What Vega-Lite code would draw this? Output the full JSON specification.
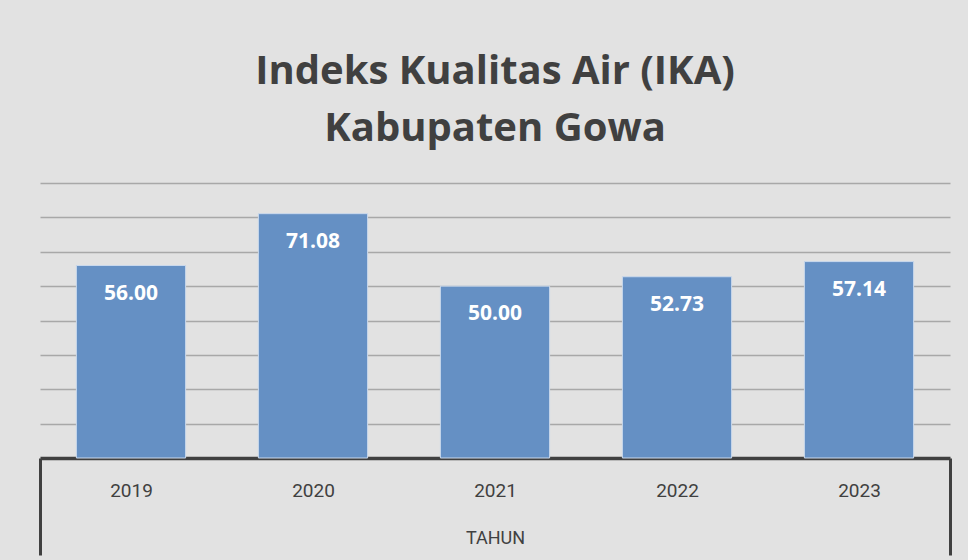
{
  "$schema": "https://vega.github.io/schema/vega-lite/v6.json",
  "autosize": "none",
  "width": 910,
  "height": 275,
  "padding": {"left": 40, "top": 183, "right": 18, "bottom": 102},
  "background": "#e2e2e2",
  "title": {
    "text": ["Indeks Kualitas Air (IKA)", "Kabupaten Gowa"],
    "font": "Open Sans",
    "fontSize": 40,
    "fontWeight": "bold",
    "color": "#404040",
    "lineHeight": 57,
    "anchor": "middle",
    "offset": 34
  },
  "config": {
    "view": {"stroke": null},
    "font": "Open Sans"
  },
  "data": {
    "values": [
      {"Tahun": "2019", "IKA": 56.00},
      {"Tahun": "2020", "IKA": 71.08},
      {"Tahun": "2021", "IKA": 50.00},
      {"Tahun": "2022", "IKA": 52.73},
      {"Tahun": "2023", "IKA": 57.14}
    ]
  },
  "encoding": {
    "x": {
      "field": "Tahun",
      "type": "nominal",
      "title": "TAHUN",
      "scale": {"paddingInner": 0.4, "paddingOuter": 0.2},
      "axis": {
        "labelAngle": 0,
        "labelFont": "Roboto",
        "labelFontSize": 19,
        "labelColor": "#404040",
        "labelBaseline": "middle",
        "labelPadding": -65,
        "labelOffset": 36.4,
        "bandPosition": 1.6667,
        "tickExtra": true,
        "tickOffset": -36.4,
        "tickSize": 97,
        "tickWidth": 3,
        "tickColor": {"condition": {"test": "datum.extra || datum.value === '2023'", "value": "#404040"}, "value": "transparent"},
        "domainColor": "#404040",
        "domainWidth": 3.5,
        "titleFont": "Roboto",
        "titleFontSize": 18,
        "titleFontWeight": "normal",
        "titleColor": "#404040",
        "titleBaseline": "middle",
        "titleY": 80
      }
    },
    "y": {
      "field": "IKA",
      "type": "quantitative",
      "scale": {"domain": [0, 80], "nice": false},
      "axis": {
        "title": null,
        "labels": false,
        "ticks": false,
        "domain": false,
        "values": [10, 20, 30, 40, 50, 60, 70, 80],
        "gridColor": "#a8a8a8",
        "gridWidth": 1.5,
        "minExtent": 0,
        "maxExtent": 0
      }
    }
  },
  "layer": [
    {
      "mark": {"type": "bar", "color": "#6590c4", "stroke": "#c9d8ec", "strokeWidth": 1}
    },
    {
      "mark": {"type": "text", "baseline": "middle", "dy": 28, "color": "white", "font": "Open Sans", "fontSize": 21, "fontWeight": "bold"},
      "encoding": {
        "text": {"field": "IKA", "type": "quantitative", "format": ".2f"}
      }
    }
  ]
}
